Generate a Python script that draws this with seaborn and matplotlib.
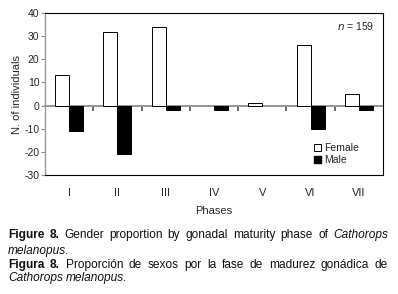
import numpy as np
import pandas as pd
import matplotlib
matplotlib.use("Agg")
import matplotlib.pyplot as plt
import seaborn as sns
from matplotlib import font_manager as fm
from matplotlib.patches import Patch

phases = ["I", "II", "III", "IV", "V", "VI", "VII"]
female = [13, 32, 34, 0, 1, 26, 5]
male = [-11, -21, -2, -2, 0, -10, -2]
yticks = [-30, -20, -10, 0, 10, 20, 30, 40]

sns.set_theme(style="white")
names = {f.name for f in fm.fontManager.ttflist}
fam = "Liberation Sans Narrow" if "Liberation Sans Narrow" in names else "Liberation Sans"
plt.rcParams["font.family"] = [fam, "DejaVu Sans"]

df = pd.DataFrame({
    "phase": phases * 2,
    "sex": ["Female"] * len(phases) + ["Male"] * len(phases),
    "count": female + male,
})

fig = plt.figure(figsize=(3.98, 2.94), dpi=100)
ax = fig.add_axes([45/398, 1-175/294, (383-45)/398, (175-13)/294])
sns.barplot(data=df, x="phase", y="count", hue="sex", order=phases,
            palette={"Female": "white", "Male": "black"}, edgecolor="black",
            linewidth=0.7, width=0.58, ax=ax, legend=False)
for p in ax.patches:
    if p.get_height() == 0:
        p.set_linewidth(0)
ax.set_ylim(-30, 40)
ax.set_xlim(-0.5, 6.5)
ax.set_yticks(yticks)
ax.set_yticklabels([str(v) for v in yticks], fontsize=7.5)
ax.set_xticklabels(phases, fontsize=8)
ax.tick_params(axis="x", length=0, pad=9)
ax.tick_params(axis="y", length=3, width=0.8, color="#888888", left=True, pad=1)
for s in ["top", "right", "bottom"]:
    ax.spines[s].set_color("black")
    ax.spines[s].set_linewidth(0.8)
ax.spines["left"].set_color("#999999")
ax.spines["left"].set_linewidth(1.0)
ax.set_ylabel("N. of individuals", fontsize=8, labelpad=2)
ax.set_xlabel("Phases", fontsize=8, labelpad=6)

sec = ax.secondary_xaxis(3/7)
sec.set_xticks(np.arange(0.5, 6.0, 1.0))
sec.tick_params(axis="x", which="major", bottom=True, direction="out", length=3.5,
                width=1.2, color="#555555", labelbottom=False)
sec.spines["bottom"].set_color("#8c8c8c")
sec.spines["bottom"].set_linewidth(1.3)

handles = [Patch(facecolor="white", edgecolor="black", linewidth=0.7, label="Female"),
           Patch(facecolor="black", edgecolor="black", label="Male")]
ax.legend(handles=handles, loc="lower left", bbox_to_anchor=(0.78, 0.03), frameon=False,
          fontsize=7.5, handlelength=0.7, handleheight=0.7, handletextpad=0.3,
          labelspacing=0.2, borderpad=0)
ax.text(0.975, 0.92, "$n$ = 159", transform=ax.transAxes, ha="right", va="center", fontsize=7.5)

# caption, word-justified
fs = 8.6
lines = [
    ([("Figure", "bold"), ("8.", "bold"), ("Gender", "n"), ("proportion", "n"), ("by", "n"),
      ("gonadal", "n"), ("maturity", "n"), ("phase", "n"), ("of", "n"), ("Cathorops", "i")], True, 235),
    ([("melanopus.", "i")], False, 251),
    ([("Figura", "bold"), ("8.", "bold"), ("Proporción", "n"), ("de", "n"), ("sexos", "n"), ("por", "n"),
      ("la", "n"), ("fase", "n"), ("de", "n"), ("madurez", "n"), ("gonádica", "n"), ("de", "n")], True, 265),
    ([("Cathorops", "i"), ("melanopus.", "i")], False, 278),
]
renderer = fig.canvas.get_renderer()
x0, x1 = 8, 388
for words, justify, ypix in lines:
    texts = []
    for w, st in words:
        kw = dict(fontsize=fs, va="center", ha="left", color="#111111")
        if st == "bold":
            kw["fontweight"] = "bold"
        if st == "i":
            kw["fontstyle"] = "italic"
        t = fig.text(0, 1 - ypix/294, w, **kw)
        texts.append(t)
    widths = [t.get_window_extent(renderer).width for t in texts]
    ta = fig.text(0, 0, "a a", fontsize=fs)
    tb = fig.text(0, 0, "a", fontsize=fs)
    space = ta.get_window_extent(renderer).width - 2 * tb.get_window_extent(renderer).width
    ta.remove()
    tb.remove()
    gap = (x1 - x0 - sum(widths)) / (len(texts) - 1) if justify and len(texts) > 1 else space
    x = x0
    for t, w in zip(texts, widths):
        t.set_x(x / 398)
        x += w + gap

fig.savefig("out.png", dpi=100)
